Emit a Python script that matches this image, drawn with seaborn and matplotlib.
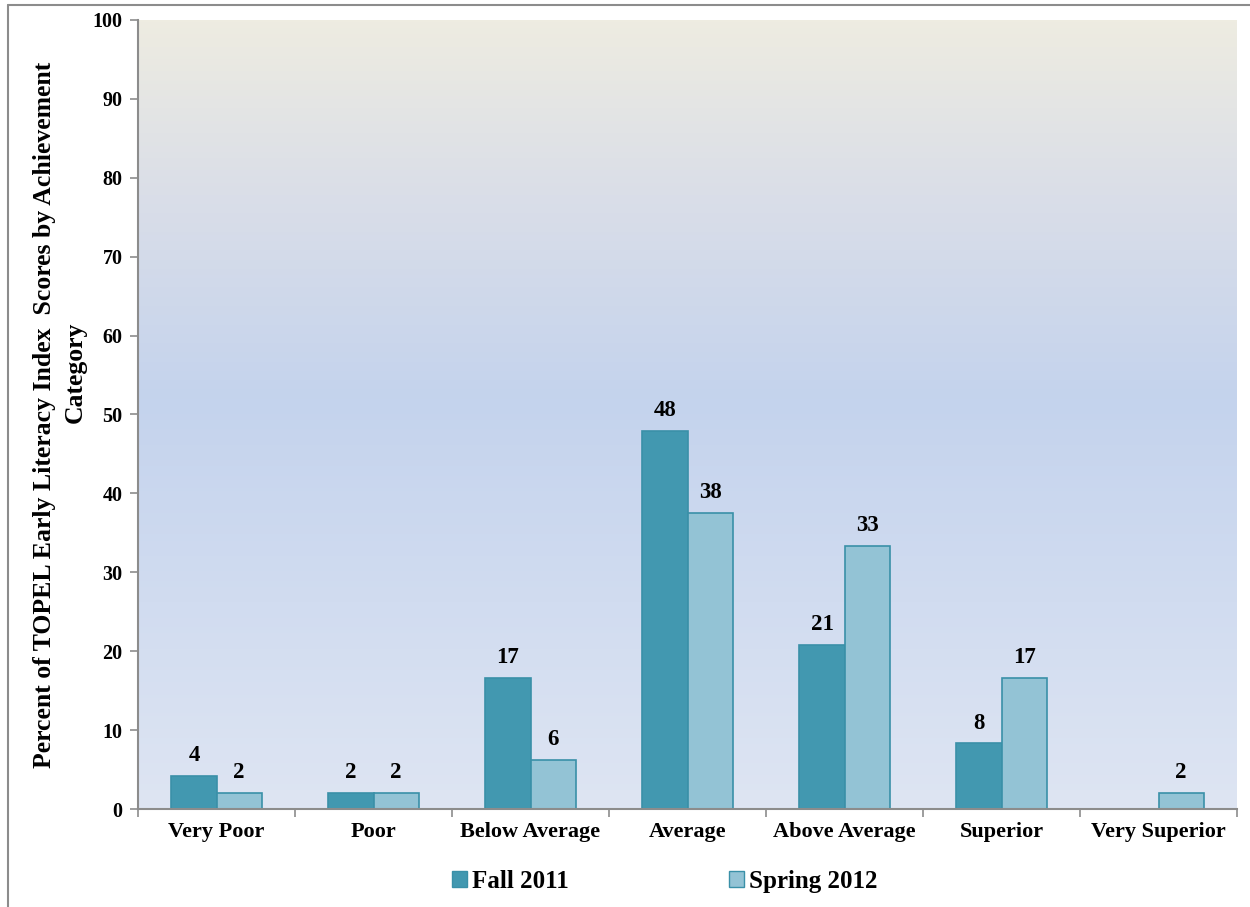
import numpy as np
import pandas as pd
import matplotlib
matplotlib.use("Agg")
import matplotlib.pyplot as plt
from matplotlib.colors import LinearSegmentedColormap
from matplotlib.lines import Line2D
import seaborn as sns

# Percent of TOPEL Early Literacy Index scores per achievement category
categories = ["Very Poor", "Poor", "Below Average", "Average",
              "Above Average", "Superior", "Very Superior"]
fall_2011 = [4.17, 2.08, 16.67, 47.92, 20.83, 8.33, 0.0]
spring_2012 = [2.08, 2.08, 6.25, 37.5, 33.33, 16.67, 2.08]
series = ["Fall 2011", "Spring 2012"]
y_ticks = [0, 10, 20, 30, 40, 50, 60, 70, 80, 90, 100]

df = pd.DataFrame({
    "category": categories * 2,
    "percent": fall_2011 + spring_2012,
    "term": [series[0]] * len(categories) + [series[1]] * len(categories),
})

sns.set_theme(style="white")
plt.rcParams["font.family"] = ["Liberation Serif", "DejaVu Serif"]
plt.rcParams["font.weight"] = "bold"
for key in ("text.color", "axes.labelcolor", "xtick.labelcolor", "ytick.labelcolor"):
    plt.rcParams[key] = "black"

fig = plt.figure(figsize=(12.5, 9.07), dpi=100)
ax = fig.add_axes([0.1104, 0.108, 0.8792, 0.870])

# Vertical gradient plot-area fill
grad_cmap = LinearSegmentedColormap.from_list(
    "plotfill",
    [(0.0, "#dee5f3"), (0.52, "#c4d3ed"), (0.78, "#dadee8"), (1.0, "#eeece1")],
)
ax.imshow(np.linspace(0, 1, 256).reshape(-1, 1), cmap=grad_cmap, aspect="auto",
          origin="lower", extent=[-0.5, len(categories) - 0.5, 0, 100], zorder=0)

palette = {series[0]: "#4298b0", series[1]: "#93c3d5"}
sns.barplot(data=df, x="category", y="percent", hue="term", order=categories,
            hue_order=series, palette=palette, width=0.574, gap=0,
            edgecolor="#3a90a8", linewidth=1.2, saturation=1, ax=ax, zorder=2)

for container in ax.containers:
    labels = ["" if v == 0 else f"{v:.0f}" for v in container.datavalues]
    ax.bar_label(container, labels=labels, padding=7, fontsize=16.5,
                 fontweight="bold", color="black")

ax.set_xlim(-0.5, len(categories) - 0.5)
ax.set_ylim(0, 100)
ax.set_yticks(y_ticks)
ax.set_yticklabels([str(t) for t in y_ticks], fontsize=14.5, fontweight="bold",
                   color="black")
ax.set_xticks(range(len(categories)))
ax.set_xticklabels(categories, fontsize=16, fontweight="bold", color="black")
ax.set_xticks(np.arange(-0.5, len(categories)), minor=True)
ax.tick_params(axis="x", which="major", length=0, pad=9)
ax.tick_params(axis="x", which="minor", length=6, width=1.2, color="#8c8c8c",
               direction="out", bottom=True)
ax.tick_params(axis="y", which="major", length=6, width=1.2, color="#8c8c8c",
               direction="out", left=True, pad=5)

for side in ("top", "right"):
    ax.spines[side].set_visible(False)
for side in ("left", "bottom"):
    ax.spines[side].set_color("#8c8c8c")
    ax.spines[side].set_linewidth(1.5)

ax.set_xlabel("")
ax.set_ylabel("")
# Two-line y-axis title
fig.text(45 / 1250, 1 - 415 / 907,
         "Percent of TOPEL Early Literacy Index  Scores by Achievement",
         rotation=90, ha="center", va="center", fontsize=18.5, fontweight="bold",
         color="black")
fig.text(75 / 1250, 1 - 372 / 907, "Category",
         rotation=90, ha="center", va="center", fontsize=18.5, fontweight="bold",
         color="black")

ax.get_legend().remove()
handles = [plt.Rectangle((0, 0), 1, 1, facecolor=palette[s], edgecolor="#3a90a8")
           for s in series]
fig.legend(handles, series, loc="center", bbox_to_anchor=(0.532, 0.028), ncol=2,
           frameon=False, handlelength=0.6, handleheight=0.6,
           handletextpad=0.2, columnspacing=6.4, labelcolor="black",
           prop={"weight": "bold", "size": 18})

# Outer frame lines along the top and left edges
fig.add_artist(Line2D([0.006, 1.0], [0.9945, 0.9945], transform=fig.transFigure,
                      color="#8c8c8c", linewidth=1.5))
fig.add_artist(Line2D([0.006, 0.006], [0.0, 0.9945], transform=fig.transFigure,
                      color="#8c8c8c", linewidth=1.5))

fig.savefig("out.png", dpi=100, facecolor="white")
